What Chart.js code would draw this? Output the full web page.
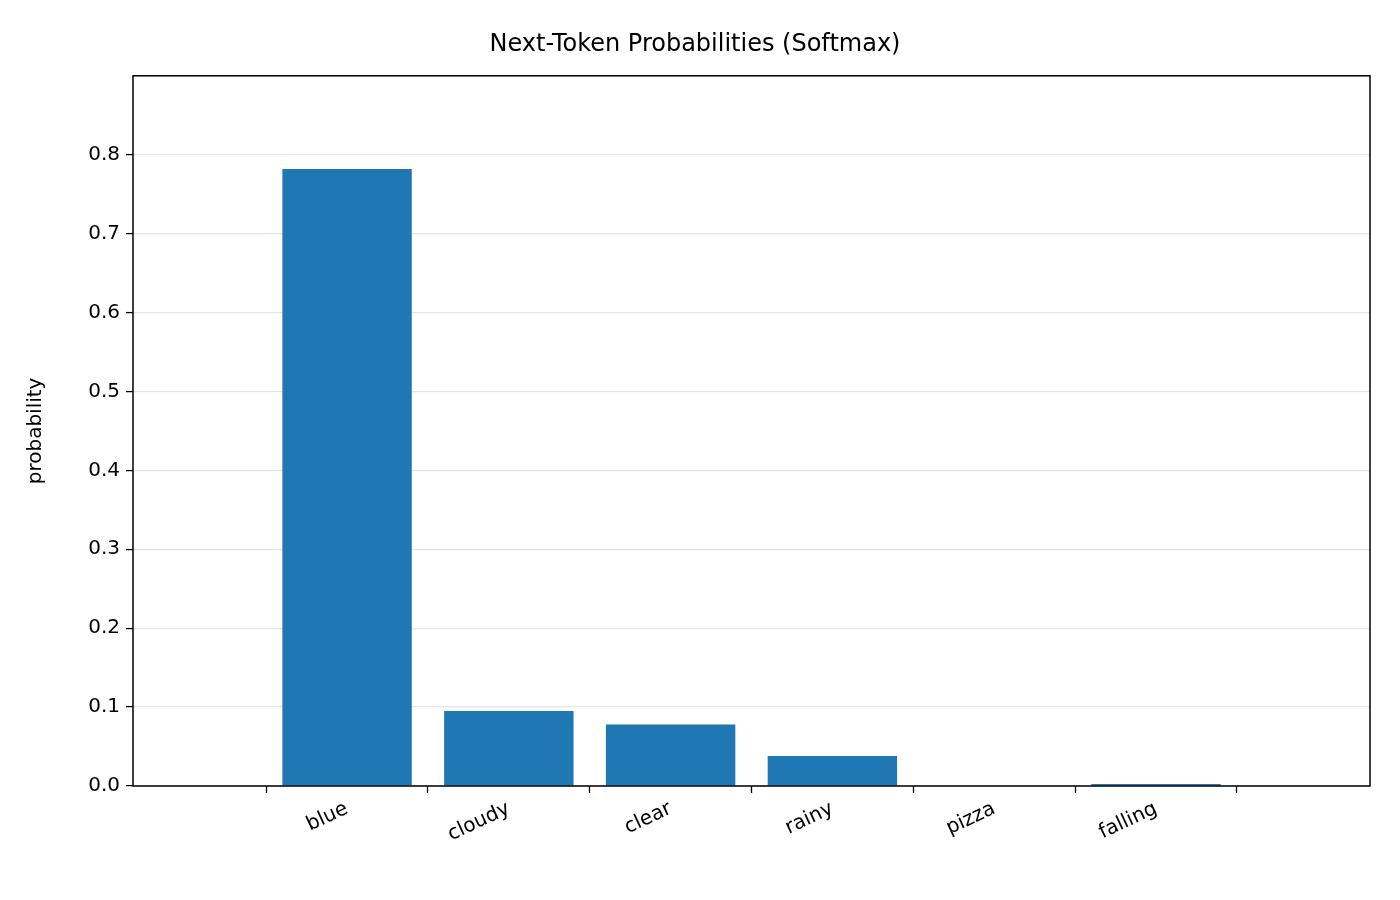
<!DOCTYPE html>
<html>
<head>
<meta charset="utf-8">
<script src="https://cdn.jsdelivr.net/npm/chart.js@4"></script>
<style>
  html, body { margin: 0; padding: 0; background: #fff; }
  #wrap { width: 1400px; height: 900px; }
</style>
</head>
<body>
<div id="wrap"><canvas id="c"></canvas></div>
<script>
const tokens = ["blue", "cloudy", "clear", "rainy", "pizza", "falling"];
const probabilities = [0.782, 0.095, 0.078, 0.038, 0.0005, 0.0025];
const yTicks = [0, 0.1, 0.2, 0.3, 0.4, 0.5, 0.6, 0.7, 0.8];

const font = "'DejaVu Sans', sans-serif";

// black frame around the plot area, like matplotlib's spines
const frame = {
    id: 'frame',
    afterDraw(chart) {
        const { ctx, chartArea: a } = chart;
        ctx.save();
        ctx.strokeStyle = '#000';
        ctx.lineWidth = 1.5;
        ctx.strokeRect(a.left, a.top, a.right - a.left, a.bottom - a.top);
        ctx.restore();
    }
};

new Chart(document.getElementById('c'), {
    type: 'bar',
    plugins: [frame],
    data: {
        datasets: [{
            data: probabilities.map((p, i) => ({ x: i, y: p })),
            backgroundColor: '#1f77b4',
            borderWidth: 0,
            barPercentage: 0.8,
            categoryPercentage: 1.0
        }]
    },
    options: {
        responsive: true,
        maintainAspectRatio: false,
        animation: false,
        layout: { padding: { left: 20, right: 30, top: 0, bottom: 0 } },
        plugins: {
            legend: { display: false },
            tooltip: { enabled: false },
            title: {
                display: true,
                text: 'Next-Token Probabilities (Softmax)',
                color: '#000',
                font: { family: font, size: 24, weight: 'normal' },
                padding: { top: 30, bottom: 17 }
            }
        },
        scales: {
            x: {
                type: 'linear',
                min: -0.686, max: 5.686,
                afterBuildTicks(scale) { scale.ticks = tokens.map((t, i) => ({ value: i })); },
                grid: { drawOnChartArea: false, tickColor: '#000', tickLength: 7, tickWidth: 1.3 },
                border: { display: false },
                ticks: {
                    color: '#000',
                    font: { family: font, size: 20 },
                    callback: v => tokens[v],
                    maxRotation: 25, minRotation: 25,
                    padding: 4
                },
                afterFit(scale) { scale.height = 114; }
            },
            y: {
                min: 0, max: 0.9,
                afterBuildTicks(scale) { scale.ticks = yTicks.map(v => ({ value: v })); },
                grid: { color: '#e5e5e5', tickColor: '#000', tickLength: 7, tickWidth: 1.3, lineWidth: 1.2 },
                border: { display: false },
                ticks: {
                    color: '#000',
                    font: { family: font, size: 20 },
                    callback: v => v.toFixed(1),
                    padding: 6
                },
                title: {
                    display: true,
                    text: 'probability',
                    color: '#000',
                    font: { family: font, size: 20 },
                    padding: { bottom: 8 }
                },
                afterFit(scale) { scale.width = 113; }
            }
        }
    }
});
</script>
</body>
</html>
